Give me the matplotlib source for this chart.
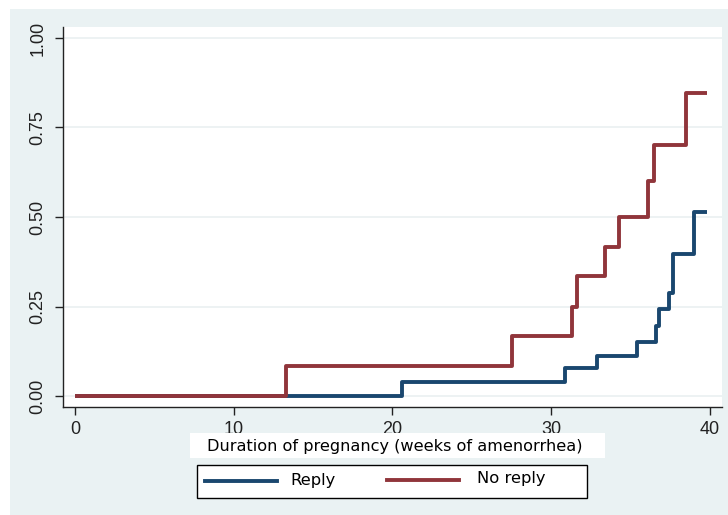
import matplotlib.pyplot as plt
from matplotlib.patches import Rectangle
from matplotlib.lines import Line2D

# cumulative incidence by week of amenorrhea
reply_weeks = [0, 20.6, 30.9, 32.9, 35.4, 36.6, 36.8, 37.4, 37.7, 39.0, 39.8]
reply_prob = [0, 0.038, 0.077, 0.112, 0.152, 0.195, 0.243, 0.288, 0.397, 0.515, 0.515]

noreply_weeks = [0, 13.3, 27.5, 31.3, 31.6, 33.4, 34.3, 36.1, 36.5, 38.5, 39.8]
noreply_prob = [0, 0.084, 0.168, 0.25, 0.335, 0.417, 0.50, 0.60, 0.70, 0.847, 0.847]

series_names = ['Reply', 'No reply']

xticks = [0, 10, 20, 30, 40]
yticks = [0, 0.25, 0.5, 0.75, 1.0]
ytick_labels = ['0.00', '0.25', '0.50', '0.75', '1.00']

blue = '#1a476f'
red = '#90353b'
bg = '#eaf2f3'

W, H = 728, 515


def fx(px):
    return px / W


def fy(py):
    return 1 - py / H


fig = plt.figure(figsize=(W / 100, H / 100), dpi=100)
fig.patch.set_facecolor('white')
fig.patches.append(Rectangle((fx(10), 0), 1 - fx(10), 506 / H,
                             transform=fig.transFigure, facecolor=bg,
                             edgecolor='none', zorder=-10))

ax = fig.add_axes([fx(63), fy(407), (722 - 63) / W, (407 - 27) / H])
ax.set_facecolor('white')

ax.step(reply_weeks, reply_prob, where='post', color=blue, lw=2.8,
        solid_capstyle='butt', zorder=3)
ax.step(noreply_weeks, noreply_prob, where='post', color=red, lw=2.8,
        solid_capstyle='butt', zorder=4)

ax.set_xlim(-0.756, 40.76)
ax.set_ylim(-0.0307, 1.0307)
ax.set_xticks(xticks)
ax.set_yticks(yticks)
ax.set_yticklabels(ytick_labels, rotation=90, va='center')
for lab in ax.get_xticklabels() + ax.get_yticklabels():
    lab.set_family('Liberation Sans')
    lab.set_fontsize(13)
    lab.set_color('#222222')
ax.tick_params(direction='out', length=6, width=1, color='#222222')
ax.tick_params(axis='x', pad=4)
ax.tick_params(axis='y', pad=6)
ax.grid(axis='y', color='#eaf0f1', lw=1.2, zorder=0)
ax.set_axisbelow(True)
for s in ['top', 'right']:
    ax.spines[s].set_visible(False)
for s in ['left', 'bottom']:
    ax.spines[s].set_color('#222222')
    ax.spines[s].set_linewidth(1)

# x title in a white box, as Stata draws it
fig.patches.append(Rectangle((fx(190), fy(458)), 415 / W, 25 / H,
                             transform=fig.transFigure, facecolor='white',
                             edgecolor='none', zorder=1))
fig.text(fx(395), fy(446), 'Duration of pregnancy (weeks of amenorrhea)',
         ha='center', va='center', fontsize=11.6, family='DejaVu Sans',
         color='black', zorder=2)

# legend box drawn by hand (Stata-like equal columns)
fig.patches.append(Rectangle((fx(197), fy(498)), 390 / W, 33 / H,
                             transform=fig.transFigure, facecolor='white',
                             edgecolor='black', lw=1, zorder=1))
fig.lines.append(Line2D([fx(205), fx(277)], [fy(481), fy(481)],
                        transform=fig.transFigure, color=blue, lw=2.8,
                        zorder=2))
fig.lines.append(Line2D([fx(387), fx(459)], [fy(480), fy(480)],
                        transform=fig.transFigure, color=red, lw=2.8,
                        zorder=2))
fig.text(fx(290), fy(481), series_names[0], ha='left', va='center',
         fontsize=11.8, family='DejaVu Sans', zorder=2)
fig.text(fx(477), fy(478), series_names[1], ha='left', va='center',
         fontsize=11.8, family='DejaVu Sans', zorder=2)

fig.savefig('out.png', dpi=100)
